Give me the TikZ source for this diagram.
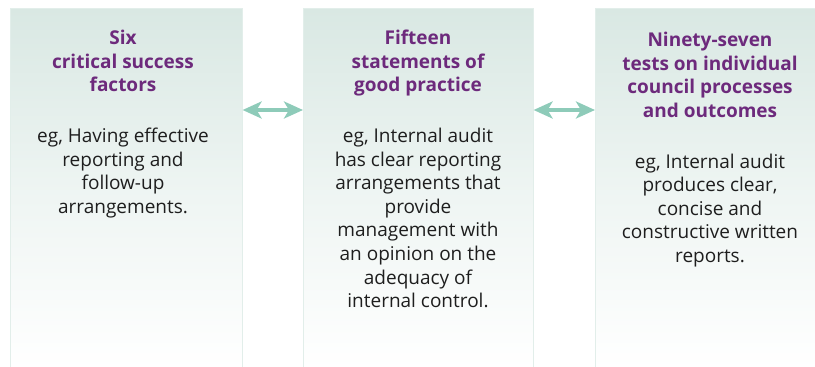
\documentclass[tikz,border=0pt]{standalone}
\usepackage{fontspec}
\setmainfont{Open Sans}
\usetikzlibrary{arrows.meta}
\definecolor{boxtop}{HTML}{D9E8E3}
\definecolor{boxedge}{HTML}{E2EEEA}
\definecolor{titlepurple}{HTML}{6D2A7C}
\definecolor{arrowteal}{HTML}{8ECBB9}
\definecolor{bodytext}{HTML}{1E1E1E}
\tikzset{
  panel/.style={rectangle, anchor=north west, inner sep=0pt, top color=boxtop, bottom color=white, middle color=boxtop!45!white, draw=boxedge, line width=0.6pt},
  paneltext/.style={anchor=north, align=center, inner sep=0pt, font=\fontsize{19}{23.6}\selectfont, text=bodytext},
  link/.style={draw=arrowteal, line width=4pt, {Stealth[length=19pt,width=17pt,inset=5pt]}-{Stealth[length=19pt,width=17pt,inset=5pt]}}
}
\newcommand{\ttl}[1]{\textcolor{titlepurple}{\bfseries #1}}
\begin{document}
\begin{tikzpicture}[x=1pt,y=1pt]
\useasboundingbox (0,0) rectangle (815,-367);
\node[panel, minimum width=232pt, minimum height=360pt] (b1) at (10,-8) {};
\node[panel, minimum width=230pt, minimum height=360pt] (b2) at (303,-8) {};
\node[panel, minimum width=225pt, minimum height=360pt] (b3) at (595,-8) {};

\node[paneltext] (t1) at (123,-30) {\ttl{Six}\\\ttl{critical success}\\\ttl{factors}\\[27pt]eg, Having effective\\reporting and\\follow-up\\arrangements.};
\node[paneltext] (t2) at (418,-30) {\ttl{Fifteen}\\\ttl{statements of}\\\ttl{good practice}\\[27pt]eg, Internal audit\\has clear reporting\\arrangements that\\provide\\management with\\an opinion on the\\adequacy of\\internal control.};
\node[paneltext] (t3) at (710,-32) {\ttl{Ninety-seven}\\\ttl{tests on individual}\\\ttl{council processes}\\\ttl{and outcomes}\\[27pt]eg, Internal audit\\produces clear,\\concise and\\constructive written\\reports.};

\draw[link] ([yshift=-102pt]b1.north east) -- ([yshift=-102pt]b2.north west);
\draw[link] ([yshift=-102pt]b2.north east) -- ([yshift=-102pt]b3.north west);
\end{tikzpicture}
\end{document}
